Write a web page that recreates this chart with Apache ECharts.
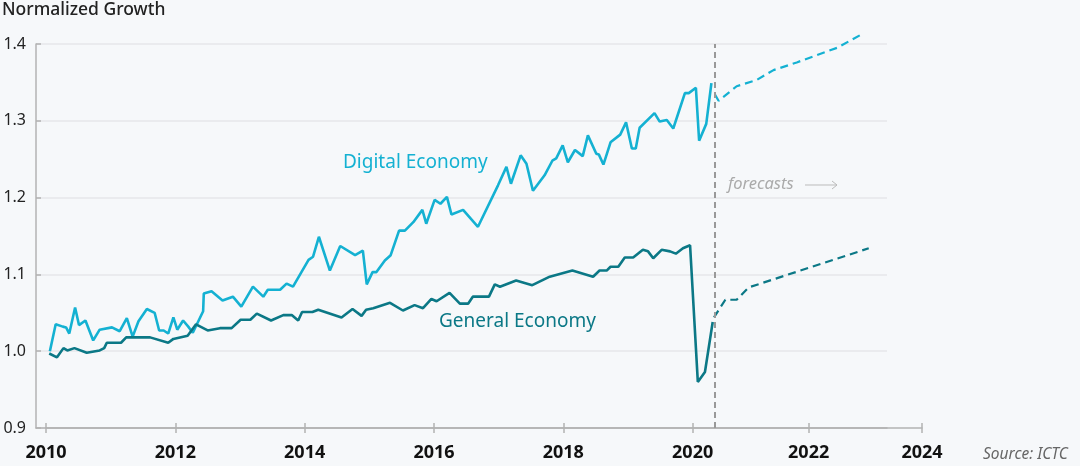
<!DOCTYPE html>
<html>
<head>
<meta charset="utf-8">
<title>Normalized Growth</title>
<script src="https://cdn.jsdelivr.net/npm/echarts@6/dist/echarts.min.js"></script>
<style>
  html, body { margin: 0; padding: 0; background: #f6f8fa; }
  #main { width: 1080px; height: 466px; }
</style>
</head>
<body>
<div id="main"></div>
<script>
// values, [year, index]
var digitalHistory = [
  [2010.06, 1.000], [2010.15, 1.035], [2010.26, 1.032], [2010.31, 1.031], [2010.36, 1.023],
  [2010.45, 1.057], [2010.51, 1.034], [2010.61, 1.040], [2010.73, 1.014], [2010.83, 1.028],
  [2011.02, 1.031], [2011.14, 1.026], [2011.25, 1.043], [2011.34, 1.019], [2011.43, 1.039],
  [2011.56, 1.055], [2011.68, 1.050], [2011.75, 1.027], [2011.82, 1.027], [2011.89, 1.023],
  [2011.97, 1.044], [2012.03, 1.028], [2012.12, 1.040], [2012.20, 1.032], [2012.27, 1.024],
  [2012.43, 1.052], [2012.44, 1.075], [2012.56, 1.078], [2012.73, 1.066], [2012.89, 1.071],
  [2013.02, 1.058], [2013.20, 1.084], [2013.36, 1.071], [2013.43, 1.080], [2013.62, 1.080],
  [2013.72, 1.088], [2013.82, 1.084], [2014.06, 1.119], [2014.13, 1.123], [2014.22, 1.149],
  [2014.39, 1.105], [2014.55, 1.137], [2014.78, 1.125], [2014.90, 1.131], [2014.96, 1.087],
  [2015.05, 1.103], [2015.11, 1.103], [2015.24, 1.118], [2015.33, 1.125], [2015.46, 1.157],
  [2015.55, 1.157], [2015.68, 1.168], [2015.82, 1.184], [2015.88, 1.166], [2016.01, 1.197],
  [2016.10, 1.192], [2016.20, 1.201], [2016.27, 1.178], [2016.45, 1.184], [2016.68, 1.162],
  [2016.99, 1.216], [2017.12, 1.240], [2017.19, 1.218], [2017.34, 1.255], [2017.43, 1.244],
  [2017.53, 1.209], [2017.71, 1.229], [2017.83, 1.248], [2017.89, 1.251], [2017.99, 1.268],
  [2018.07, 1.246], [2018.18, 1.262], [2018.30, 1.254], [2018.38, 1.281], [2018.51, 1.257],
  [2018.55, 1.256], [2018.62, 1.243], [2018.73, 1.272], [2018.88, 1.282], [2018.97, 1.298],
  [2019.06, 1.264], [2019.12, 1.264], [2019.18, 1.291], [2019.41, 1.310], [2019.49, 1.299],
  [2019.60, 1.301], [2019.70, 1.290], [2019.88, 1.336], [2019.94, 1.336], [2020.05, 1.343],
  [2020.10, 1.274], [2020.21, 1.296], [2020.29, 1.349]
];
var generalHistory = [
  [2010.05, 0.997], [2010.17, 0.992], [2010.27, 1.004], [2010.33, 1.001], [2010.44, 1.004],
  [2010.63, 0.998], [2010.83, 1.001], [2010.90, 1.004], [2010.94, 1.011], [2011.16, 1.011],
  [2011.24, 1.018], [2011.61, 1.018], [2011.89, 1.011], [2011.97, 1.016], [2012.19, 1.020],
  [2012.32, 1.035], [2012.50, 1.027], [2012.69, 1.030], [2012.87, 1.030], [2013.01, 1.041],
  [2013.16, 1.041], [2013.26, 1.049], [2013.48, 1.040], [2013.67, 1.047], [2013.80, 1.047],
  [2013.90, 1.040], [2013.96, 1.051], [2014.12, 1.051], [2014.21, 1.054], [2014.57, 1.044],
  [2014.74, 1.055], [2014.88, 1.046], [2014.95, 1.054], [2015.06, 1.056], [2015.32, 1.063],
  [2015.52, 1.053], [2015.70, 1.060], [2015.83, 1.056], [2015.96, 1.068], [2016.04, 1.065],
  [2016.24, 1.076], [2016.40, 1.062], [2016.53, 1.062], [2016.60, 1.071], [2016.85, 1.071],
  [2016.94, 1.087], [2017.02, 1.084], [2017.27, 1.092], [2017.52, 1.086], [2017.79, 1.097],
  [2018.14, 1.105], [2018.46, 1.097], [2018.56, 1.105], [2018.67, 1.105], [2018.73, 1.110],
  [2018.85, 1.110], [2018.95, 1.122], [2019.08, 1.122], [2019.23, 1.132], [2019.31, 1.130],
  [2019.39, 1.121], [2019.52, 1.132], [2019.65, 1.130], [2019.74, 1.127], [2019.85, 1.134],
  [2019.96, 1.138], [2020.08, 0.960], [2020.19, 0.973], [2020.31, 1.038]
];
var digitalForecast = [
  [2020.35, 1.334], [2020.41, 1.326], [2020.73, 1.345], [2021.08, 1.353], [2021.38, 1.366],
  [2021.79, 1.376], [2022.50, 1.395], [2022.97, 1.414]
];
var generalForecast = [
  [2020.33, 1.044], [2020.53, 1.067], [2020.73, 1.067], [2020.94, 1.083], [2023.06, 1.134]
];
var pastYears = [2010, 2012, 2014, 2016, 2018, 2020];
var futureYears = [2022, 2024];
var forecastStart = 2020.33;

var cyan = '#14b1d2';
var teal = '#0b7886';
var axisGray = '#b3b3b3';
var font = 'Noto Sans';

var myChart = echarts.init(document.getElementById('main'), null, { renderer: 'canvas' });

function yAx(idx, visible) {
  return {
    type: 'value', gridIndex: idx, min: 0.9, max: 1.4, interval: 0.1,
    axisLine: { show: visible, lineStyle: { color: axisGray, width: 1.5 } },
    axisTick: { show: visible, inside: true, length: 5, lineStyle: { color: axisGray, width: 1.5 } },
    axisLabel: {
      show: visible, margin: 10, color: '#222', fontFamily: font, fontSize: 16,
      formatter: function (v) { return v.toFixed(1); }
    },
    splitLine: { show: visible, lineStyle: { color: '#e6e7ea', width: 1.5 } }
  };
}

function xAx(idx, min, max, ticks, inside) {
  return {
    type: 'value', gridIndex: idx, min: min, max: max, position: 'bottom',
    axisLine: { show: !inside, lineStyle: { color: axisGray, width: 1.5 } },
    axisTick: { show: true, inside: inside, length: 5, customValues: ticks,
      lineStyle: { color: axisGray, width: 1.5 } },
    axisLabel: {
      show: !inside, customValues: ticks, margin: 16, color: '#111',
      fontFamily: font, fontSize: 18, fontWeight: 'bold',
      formatter: function (v) { return String(Math.round(v)); }
    },
    splitLine: { show: false }
  };
}

var option = {
  backgroundColor: '#f6f8fa',
  animation: false,
  grid: [
    { left: 36, top: 44, width: 851, height: 384 },
    { left: 46, top: 44, width: 668, height: 384 },
    { left: 714, top: 44, width: 208, height: 384 }
  ],
  xAxis: [
    { type: 'value', gridIndex: 0, min: 0, max: 1,
      axisLine: { show: true, lineStyle: { color: axisGray, width: 1.5 } },
      axisTick: { show: false }, axisLabel: { show: false }, splitLine: { show: false } },
    xAx(1, 2010, forecastStart, pastYears, false),
    xAx(2, forecastStart, 2024, futureYears, false),
    xAx(1, 2010, forecastStart, pastYears, true),
    xAx(2, forecastStart, 2024, futureYears, true)
  ],
  yAxis: [yAx(0, true), yAx(1, false), yAx(2, false)],
  series: [
    {
      name: 'Digital Economy', type: 'line', xAxisIndex: 1, yAxisIndex: 1,
      data: digitalHistory, symbol: 'none', clip: false,
      lineStyle: { color: cyan, width: 2.6 }
    },
    {
      name: 'General Economy', type: 'line', xAxisIndex: 1, yAxisIndex: 1,
      data: generalHistory, symbol: 'none', clip: false,
      lineStyle: { color: teal, width: 2.6 }
    },
    {
      name: 'Digital forecast', type: 'line', xAxisIndex: 2, yAxisIndex: 2,
      data: digitalForecast, symbol: 'none', clip: false,
      lineStyle: { color: cyan, width: 2.2, type: [8, 5] }
    },
    {
      name: 'General forecast', type: 'line', xAxisIndex: 2, yAxisIndex: 2,
      data: generalForecast, symbol: 'none', clip: false,
      lineStyle: { color: teal, width: 2.2, type: [8, 5] },
      markLine: {
        silent: true, symbol: 'none', label: { show: false },
        lineStyle: { color: '#999', width: 2, type: [6, 4] },
        data: [{ xAxis: forecastStart + 0.005 }]
      }
    }
  ],
  graphic: [
    { type: 'text', left: 2, top: 1,
      style: { text: 'Normalized Growth', fill: '#222', font: '500 17.5px "Noto Sans"' } },
    { type: 'text', x: 343, y: 163,
      style: { text: 'Digital Economy', fill: cyan, font: '19px "Noto Sans"', verticalAlign: 'middle' } },
    { type: 'text', x: 439, y: 322,
      style: { text: 'General Economy', fill: teal, font: '19px "Noto Sans"', verticalAlign: 'middle' } },
    { type: 'text', x: 728, y: 184,
      style: { text: 'forecasts', fill: '#aaa', font: 'italic 16.5px "Noto Sans"', verticalAlign: 'middle' } },
    { type: 'polyline', shape: { points: [[805, 185], [837, 185]] },
      style: { stroke: '#bbb', lineWidth: 1, fill: null } },
    { type: 'polyline', shape: { points: [[832, 181], [837, 185], [832, 189]] },
      style: { stroke: '#bbb', lineWidth: 1, fill: null } },
    { type: 'text', x: 983, y: 455,
      style: { text: 'Source: ICTC', fill: '#666', font: 'italic 15.5px "Noto Sans"', verticalAlign: 'middle' } }
  ]
};

myChart.setOption(option);
</script>
</body>
</html>
